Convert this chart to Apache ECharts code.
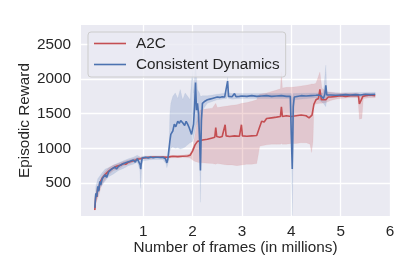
<!DOCTYPE html>
<html><head><meta charset="utf-8">
<script src="https://cdn.jsdelivr.net/npm/echarts@6/dist/echarts.min.js"></script>
<style>html,body{margin:0;padding:0;background:#fff;}#c{width:415px;height:277px;}</style>
</head><body><div id="c"></div>
<script>
const xTicks = [1, 2, 3, 4, 5, 6];
const yTicks = [500, 1000, 1500, 2000, 2500];

const a2cX = [0.02,0.04,0.06,0.08,0.1,0.12,0.14,0.17,0.2,0.23,0.26,0.3,0.34,0.38,0.42,0.46,0.5,0.55,0.6,0.65,0.7,0.75,0.8,0.85,0.9,0.95,1.0,1.05,1.1,1.15,1.2,1.3,1.4,1.5,1.55,1.6,1.7,1.8,1.9,1.95,2.0,2.05,2.1,2.15,2.2,2.3,2.4,2.45,2.47,2.49,2.55,2.6,2.64,2.66,2.68,2.75,2.85,2.95,2.99,3.01,3.1,3.2,3.3,3.35,3.4,3.45,3.5,3.6,3.7,3.78,3.8,3.82,3.9,4.0,4.1,4.2,4.3,4.36,4.42,4.46,4.5,4.55,4.58,4.61,4.65,4.7,4.75,4.8,4.9,5.0,5.1,5.2,5.3,5.36,5.38,5.42,5.45,5.5,5.6,5.7];
const a2cMean = [110,330,300,440,400,500,480,570,560,620,610,670,680,710,700,740,730,760,780,770,800,810,820,830,845,850,860,865,870,868,875,870,875,872,880,885,880,885,890,900,960,1050,1100,1110,1120,1130,1150,1160,1300,1170,1160,1170,1175,1340,1180,1170,1180,1175,1340,1180,1175,1180,1185,1290,1390,1380,1430,1440,1450,1460,1600,1460,1470,1460,1470,1480,1470,1440,1480,1640,1700,1720,1850,1700,1690,1700,1740,1740,1750,1760,1750,1760,1760,1760,1640,1630,1750,1760,1770,1760];

const a2cBandX = [0.02,0.05,0.1,0.15,0.2,0.3,0.4,0.5,0.6,0.7,0.8,0.9,1.0,1.2,1.5,1.8,1.95,2.0,2.05,2.1,2.15,2.2,2.3,2.4,2.47,2.5,2.6,2.7,2.8,2.9,3.0,3.1,3.2,3.3,3.33,3.36,3.5,3.6,3.7,3.78,3.8,3.82,3.9,4.0,4.1,4.2,4.3,4.38,4.41,4.44,4.46,4.5,4.58,4.62,4.7,4.8,4.9,5.0,5.2,5.35,5.38,5.43,5.46,5.6,5.7];
const a2cLow = [100,230,320,450,520,620,680,700,750,770,800,830,850,860,860,870,860,830,810,800,790,790,785,780,770,780,770,760,760,750,760,770,770,780,900,1030,1050,1060,1060,1060,1070,1060,1060,1070,1070,1080,1080,1060,940,1100,1620,1640,1650,1650,1660,1690,1710,1720,1730,1730,1420,1430,1720,1730,1730];
const a2cHigh = [130,360,450,580,640,720,760,780,810,830,850,870,880,890,890,900,920,1000,1200,1450,1550,1560,1570,1580,1650,1590,1600,1610,1620,1630,1650,1660,1680,1700,1760,1780,1800,1820,1840,1860,2100,1870,1880,1880,1890,1900,1910,1920,1930,1930,1930,1940,2100,1870,1820,1810,1800,1800,1800,1800,1780,1780,1790,1790,1780];

const cdX = [0.02,0.04,0.06,0.08,0.1,0.12,0.14,0.17,0.2,0.23,0.26,0.3,0.33,0.36,0.4,0.43,0.46,0.5,0.53,0.57,0.6,0.64,0.68,0.72,0.76,0.8,0.84,0.88,0.92,0.94,0.95,0.96,0.98,1.0,1.05,1.1,1.15,1.2,1.25,1.3,1.35,1.4,1.45,1.48,1.5,1.52,1.54,1.56,1.6,1.63,1.66,1.7,1.73,1.76,1.8,1.84,1.87,1.9,1.93,1.96,1.98,2.0,2.02,2.04,2.06,2.08,2.1,2.12,2.14,2.16,2.18,2.2,2.25,2.3,2.35,2.4,2.45,2.5,2.55,2.6,2.65,2.69,2.71,2.73,2.8,2.85,2.88,2.95,3.0,3.1,3.2,3.3,3.4,3.5,3.6,3.7,3.8,3.9,3.98,4.0,4.02,4.04,4.06,4.1,4.2,4.3,4.4,4.5,4.55,4.6,4.65,4.68,4.7,4.72,4.8,4.9,5.0,5.1,5.2,5.3,5.4,5.5,5.6,5.7];
const cdMean = [140,350,300,450,380,520,470,560,540,620,580,660,640,700,690,730,700,740,720,770,750,790,770,810,790,830,800,850,830,760,700,780,860,850,870,860,875,865,870,872,868,870,850,790,850,870,1100,1200,1250,1350,1310,1390,1360,1400,1370,1330,1390,1350,1300,1240,1200,1180,1350,1600,1950,1550,1650,1500,1200,680,1400,1650,1680,1700,1710,1720,1730,1740,1735,1745,1740,1750,1970,1750,1745,1790,1745,1750,1755,1750,1760,1750,1755,1760,1750,1755,1760,1750,1750,1200,700,1600,1740,1750,1760,1755,1760,1765,1770,1760,1720,1780,1910,1770,1770,1765,1770,1775,1770,1775,1770,1780,1775,1780];

const cdBandX = [0.02,0.04,0.08,0.12,0.17,0.23,0.3,0.4,0.5,0.6,0.7,0.8,0.88,0.93,0.95,0.97,1.0,1.2,1.4,1.46,1.48,1.52,1.54,1.56,1.6,1.65,1.7,1.75,1.8,1.85,1.9,1.95,2.0,2.02,2.06,2.1,2.14,2.16,2.18,2.2,2.3,2.5,2.69,2.71,2.73,2.8,3.0,3.5,3.98,4.0,4.02,4.04,4.06,4.5,4.65,4.7,4.72,5.0,5.7];
const cdLow = [120,250,330,420,470,530,590,630,680,710,750,770,800,700,420,750,820,840,840,780,720,820,950,1000,1020,1000,1010,990,1000,1020,1050,1080,1100,1150,1300,1400,1000,220,1300,1550,1650,1700,1720,1750,1720,1710,1720,1720,1720,900,30,1000,1700,1730,1650,1600,1730,1740,1750];
const cdHigh = [160,450,560,600,650,700,720,760,790,820,850,870,900,880,870,880,890,890,890,880,870,890,1500,1650,1750,1800,1720,1850,1700,1800,1750,1700,2150,1800,2250,1850,1800,1750,1750,1760,1760,1780,1800,2050,1800,1790,1790,1790,1790,1790,1700,1790,1790,1800,1800,2200,1810,1800,1810];

const RED = '#C44E52', BLUE = '#4C72B0';
const TXT = '#262626';
const FONT = '"Liberation Sans", Arial, sans-serif';

function band(xs, lo, hi, color) {
  return {
    type: 'custom', silent: true, z: 1, clip: true,
    data: [[xs[0], lo[0], hi[0]]],
    encode: { x: 0, y: [1, 2] },
    renderItem: function (params, api) {
      const pts = [];
      for (let i = 0; i < xs.length; i++) pts.push(api.coord([xs[i], hi[i]]));
      for (let i = xs.length - 1; i >= 0; i--) pts.push(api.coord([xs[i], lo[i]]));
      return { type: 'polygon', shape: { points: pts },
        style: { fill: color, opacity: 0.22, stroke: color, lineWidth: 0.7, strokeOpacity: 0.4 } };
    }
  };
}
function line(name, xs, ys, color) {
  return {
    name: name, type: 'line', showSymbol: false, symbol: 'none', z: 3,
    data: xs.map((x, i) => [x, ys[i]]),
    lineStyle: { color: color, width: 1.6 }, itemStyle: { color: color }
  };
}

const chart = echarts.init(document.getElementById('c'), null, { renderer: 'canvas' });
chart.setOption({
  animation: false,
  textStyle: { fontFamily: FONT },
  grid: { left: 81, right: 25, top: 25, bottom: 61, show: true, backgroundColor: '#EAEAF2', borderWidth: 0 },
  legend: {
    orient: 'vertical', left: 88, top: 32,
    data: [{ name: 'A2C', icon: 'rect' }, { name: 'Consistent Dynamics', icon: 'rect' }],
    itemWidth: 32, itemHeight: 1.6, itemGap: 6,
    padding: [4, 6, 5, 6],
    backgroundColor: 'rgba(234,234,242,0.8)', borderColor: '#cccccc', borderWidth: 1, borderRadius: 3,
    textStyle: { fontFamily: FONT, fontSize: 15.3, color: TXT, padding: [0, 0, 0, 5] }
  },
  xAxis: {
    type: 'value', min: -0.26, max: 6,
    name: 'Number of frames (in millions)', nameLocation: 'middle', nameGap: 24, nameMoveOverlap: false,
    nameTextStyle: { fontFamily: FONT, fontSize: 15.3, color: TXT },
    axisLine: { show: false }, axisTick: { show: false, customValues: xTicks },
    axisLabel: { customValues: xTicks, fontFamily: FONT, fontSize: 15.3, color: TXT, margin: 8,
      formatter: v => String(v) },
    splitLine: { show: true, lineStyle: { color: '#ffffff', width: 1.3 } }
  },
  yAxis: {
    type: 'value', min: 23, max: 2780,
    name: 'Episodic Reward', nameLocation: 'middle', nameGap: 49, nameMoveOverlap: false,
    nameTextStyle: { fontFamily: FONT, fontSize: 15.3, color: TXT },
    axisLine: { show: false }, axisTick: { show: false, customValues: yTicks },
    axisLabel: { customValues: yTicks, fontFamily: FONT, fontSize: 15.3, color: TXT, margin: 10,
      formatter: v => String(v) },
    splitLine: { show: true, lineStyle: { color: '#ffffff', width: 1.3 } }
  },
  series: [
    band(a2cBandX, a2cLow, a2cHigh, RED),
    band(cdBandX, cdLow, cdHigh, BLUE),
    line('A2C', a2cX, a2cMean, RED),
    line('Consistent Dynamics', cdX, cdMean, BLUE)
  ]
});
</script></body></html>
